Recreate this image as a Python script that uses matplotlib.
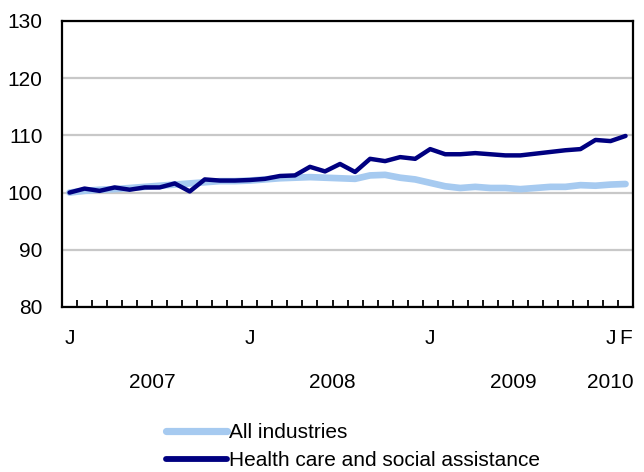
import matplotlib
matplotlib.use("Agg")
import matplotlib.pyplot as plt
import matplotlib.transforms as mtransforms
import numpy as np

# Monthly index, Jan 2007 = 100, Jan 2007 .. Feb 2010
all_industries = [
    100.0, 100.3, 100.5, 100.6, 100.8, 101.0, 101.2, 101.4, 101.6, 101.8, 102.0, 102.0,
    102.1, 102.3, 102.5, 102.6, 102.7, 102.6, 102.5, 102.4, 103.0, 103.1, 102.6, 102.3,
    101.7, 101.1, 100.8, 101.0, 100.8, 100.8, 100.6, 100.8, 101.0, 101.0, 101.3, 101.2,
    101.4, 101.5,
]
health_care = [
    100.0, 100.7, 100.3, 100.9, 100.5, 100.9, 100.9, 101.6, 100.2, 102.3, 102.1, 102.1,
    102.2, 102.4, 102.9, 103.0, 104.5, 103.7, 105.0, 103.6, 105.9, 105.5, 106.2, 105.9,
    107.6, 106.7, 106.7, 106.9, 106.7, 106.5, 106.5, 106.8, 107.1, 107.4, 107.6, 109.2,
    109.0, 109.9,
]
month_letters = ["J", "F", "M", "A", "M", "J", "J", "A", "S", "O", "N", "D"]
start_year = 2007
series_labels = ["All industries", "Health care and social assistance"]
series_colors = ["#A6CAF0", "#000080"]

plt.rcParams["font.family"] = ["Liberation Sans", "DejaVu Sans"]
FS = 15

n = len(health_care)
x = np.arange(n)
years = [start_year + i // 12 for i in range(n)]

fig = plt.figure(figsize=(6.44, 4.72), dpi=100)
ax = fig.add_axes([0.0963, 0.3496, 0.8867, 0.6060])

ax.plot(x, all_industries, color=series_colors[0], lw=4.8, solid_capstyle="round",
        label=series_labels[0], zorder=3)
ax.plot(x, health_care, color=series_colors[1], lw=3.2, solid_capstyle="round",
        label=series_labels[1], zorder=4)

ax.set_xlim(-0.5, n - 0.5)
ax.set_ylim(80, 130)
ax.set_yticks(range(80, 131, 10))
ax.yaxis.grid(True, color="#C8C8C8", lw=1.6)
ax.set_axisbelow(True)
ax.tick_params(axis="y", length=0, labelsize=FS, pad=14)

# month labels: January of each year plus the last month
major = [i for i in range(n) if i % 12 == 0]
if (n - 1) not in major:
    major.append(n - 1)
ax.set_xticks(major)
ax.set_xticklabels([month_letters[i % 12] for i in major])
ax.tick_params(axis="x", which="major", length=0, labelsize=FS, pad=16)
ax.set_xticks(np.arange(0.5, n - 1, 1), minor=True)
ax.tick_params(axis="x", which="minor", direction="in", length=5, width=1.3)

for s in ax.spines.values():
    s.set_linewidth(1.6)

# year labels centred under their months (kept inside the figure on the right)
trans = mtransforms.blended_transform_factory(ax.transData, ax.transAxes)
for yr in sorted(set(years)):
    idx = [i for i in range(n) if years[i] == yr]
    cx = min(np.mean(idx), n - 2)
    ax.text(cx, -0.23, str(yr), transform=trans, ha="center", va="top", fontsize=FS)

leg = fig.legend(loc="upper left", bbox_to_anchor=(0.258, 0.104), frameon=False,
                 fontsize=FS, handlelength=2.9, handletextpad=0.1, labelspacing=0.45,
                 borderpad=0, borderaxespad=0)
for h, w in zip(leg.get_lines(), [5.2, 4.2]):
    h.set_linewidth(w)

fig.savefig("out.png", dpi=100)
